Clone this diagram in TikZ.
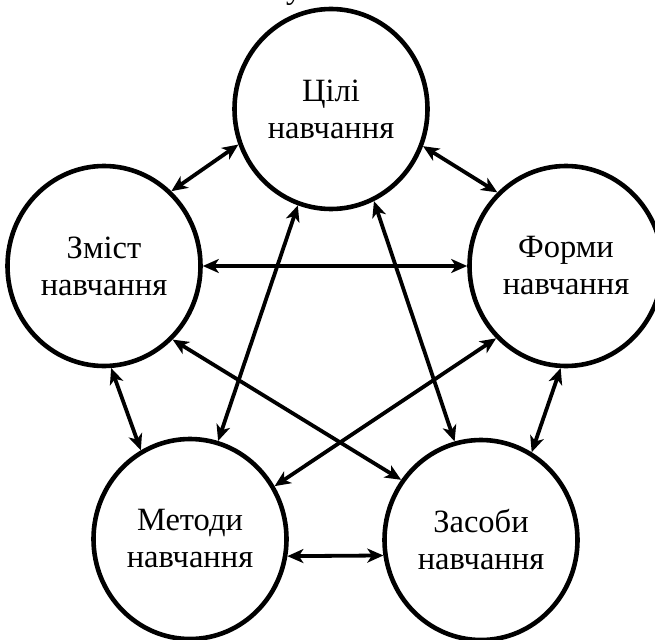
\documentclass[tikz,border=0pt]{standalone}
\usepackage{fontspec}
\setmainfont{Liberation Serif}
\usetikzlibrary{arrows.meta,shapes.geometric}
\begin{document}
\begin{tikzpicture}[x=1pt,y=-1pt,>={Stealth[length=16pt,width=14pt,inset=4.5pt]},
 every node/.style={font=\fontsize{32.5}{37}\selectfont},
 topic/.style={ellipse,draw,line width=4.6pt,minimum width=193pt,minimum height=200pt,inner sep=0pt,align=center},
 link/.style={<->,line width=3.8pt}]
  \useasboundingbox (0,0) rectangle (655,639);
  \node[anchor=base west,inner sep=0pt] (head) at (286,-1) {у};
  \node[topic] (goals) at (331,109) {Цілі\\навчання};
  \node[topic] (content) at (104,266) {Зміст\\навчання};
  \node[topic] (forms) at (566,266) {Форми\\навчання};
  \node[topic] (methods) at (190,539) {Методи\\навчання};
  \node[topic] (means) at (481,540) {Засоби\\навчання};
  % outer ring
  \draw[link] (goals.201) -- (content.48);
  \draw[link] (goals.338) -- (forms.133);
  \draw[link] (content.274) -- (methods.119);
  \draw[link] (forms.267) -- (means.60);
  \draw[link] (methods.350) -- (means.189);
  % inner star
  \draw[link] (content.east) -- (forms.west);
  \draw[link] (goals.251) -- (methods.74);
  \draw[link] (goals.295) -- (means.105);
  \draw[link] (content.313) -- (means.143);
  \draw[link] (forms.226) -- (methods.32);
\end{tikzpicture}
\end{document}
